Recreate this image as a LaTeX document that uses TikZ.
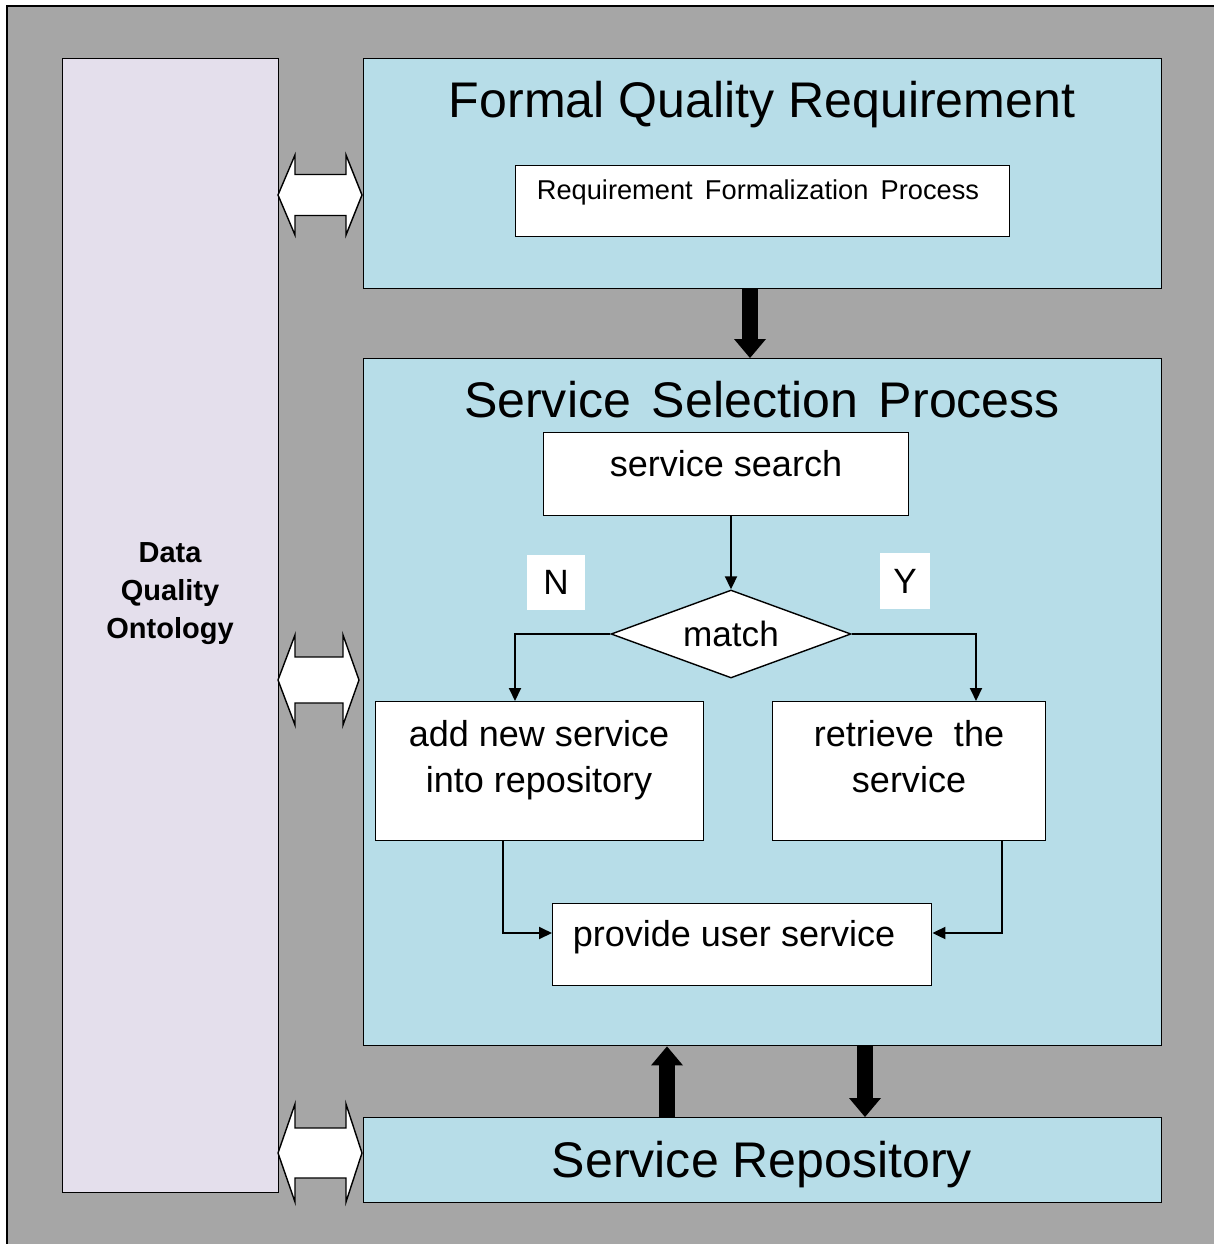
\documentclass[tikz,border=0pt]{standalone}
\usepackage{fontspec}
\setmainfont{Liberation Sans}
\usetikzlibrary{arrows.meta,shapes.geometric,calc}
\definecolor{bggray}{HTML}{A6A6A6}
\definecolor{boxblue}{HTML}{B7DDE8}
\definecolor{lav}{HTML}{E4DFEC}
\newcommand\dblarrow[4]{%
  \draw[line width=0.8pt, fill=white, line join=miter]
    (278,#1) -- (295,#1-#2) -- (295,#1-#3) -- (#4-16,#1-#3) -- (#4-16,#1-#2)
    -- (#4,#1) -- (#4-16,#1+#2) -- (#4-16,#1+#3) -- (295,#1+#3) -- (295,#1+#2) -- cycle;}
\begin{document}
\begin{tikzpicture}[x=0.02cm,y=-0.02cm,
  geom/.style n args={4}{anchor=north west, at={(#1,#2)},
    minimum width={(#3)*0.02cm}, minimum height={(#4)*0.02cm}, inner sep=0pt},
  panel/.style={draw=black, line width=0.8pt, fill=boxblue},
  wbox/.style={draw=black, line width=0.8pt, fill=white},
  txt/.style={inner sep=0pt, anchor=base, align=center},
  bigtitle/.style={txt, font=\fontsize{28.5}{34}\selectfont},
  flowtxt/.style={txt, font=\fontsize{20.5}{26}\selectfont},
  flow/.style={line width=1.1pt, -{Triangle[length=0.26cm,width=0.24cm]}},
  big/.style={line width=0.32cm, -{Triangle[length=0.38cm,width=0.64cm,line width=0pt]}}
]
\useasboundingbox (0,0) rectangle (1214,1244);
\fill[white] (0,0) rectangle (1214,1244);
\fill[bggray] (7,6) rectangle (1214,1244);
\draw[line width=1.2pt] (7,1244) -- (7,6) -- (1214,6);

% ontology column
\node[geom={62}{58}{216}{1134}, panel, fill=lav] (onto) {};
\node[txt, font=\bfseries\fontsize{16.5}{21.5}\selectfont] (ontot) at (170,638) {Data\\Quality\\Ontology};

% formal quality requirement
\node[geom={363}{58}{798}{230}, panel] (fqr) {};
\node[bigtitle] (fqrt) at (762,117) {Formal Quality Requirement};
\node[geom={515}{165}{494}{71}, wbox] (rfp) {};
\node[txt, font=\fontsize{15.5}{18}\selectfont] (rfpt) at (758,199) {\spaceskip=0.45em\relax Requirement Formalization Process};

% service selection process
\node[geom={363}{358}{798}{687}, panel] (ssp) {};
\node[bigtitle] (sspt) at (762,417) {\spaceskip=0.42em\relax Service Selection Process};
\node[geom={543}{432}{365}{83}, wbox] (search) {};
\node[flowtxt] (searcht) at (726,476) {service search};
\node[diamond, draw=black, line width=0.8pt, fill=white, aspect=2.73,
      minimum width=4.8cm, minimum height=1.76cm, inner sep=0pt,
      font=\fontsize{20}{24}\selectfont] (match) at (731,634) {match};
\node[fill=white, minimum width=58*0.02cm, minimum height=55*0.02cm, inner sep=0pt,
      font=\fontsize{20}{24}\selectfont] (nlab) at (556,582) {N};
\node[fill=white, minimum width=50*0.02cm, minimum height=56*0.02cm, inner sep=0pt,
      font=\fontsize{20}{24}\selectfont] (ylab) at (905,581) {Y};
\node[geom={375}{701}{328}{139}, wbox] (add) {};
\node[flowtxt] (addt) at (539,792) {add new service\\into repository};
\node[geom={772}{701}{273}{139}, wbox] (ret) {};
\node[flowtxt] (rett) at (909,792) {retrieve\ \ the\\service};
\node[geom={552}{903}{379}{82}, wbox] (provide) {};
\node[flowtxt] (providet) at (734,946) {provide user service};

% service repository
\node[geom={363}{1117}{798}{85}, panel] (repo) {};
\node[bigtitle] (repot) at (762,1177) {Service Repository};

% flow connectors
\draw[flow] (search.south -| match.north) -- (match.north);
\draw[flow] (match.west) -| ($(add.north west)+(140,0)$);
\draw[flow] (match.east) -| ($(ret.north west)+(204,0)$);
\draw[flow] ($(add.south west)+(128,0)$) |- ($(provide.north west)+(0,30)$);
\draw[flow] ($(ret.south west)+(230,0)$) |- ($(provide.north east)+(0,30)$);

% thick connectors
\draw[big] ($(fqr.south west)+(387,0)$) -- ($(ssp.north west)+(387,0)$);
\draw[big] ($(repo.north west)+(304,0)$) -- ($(ssp.south west)+(304,0)$);
\draw[big] ($(ssp.south west)+(502,0)$) -- ($(repo.north west)+(502,0)$);

% block double arrows to the ontology
\dblarrow{195}{40}{20.5}{362}
\dblarrow{680}{45}{23}{359}
\dblarrow{1153}{49}{25}{362}
\end{tikzpicture}
\end{document}
